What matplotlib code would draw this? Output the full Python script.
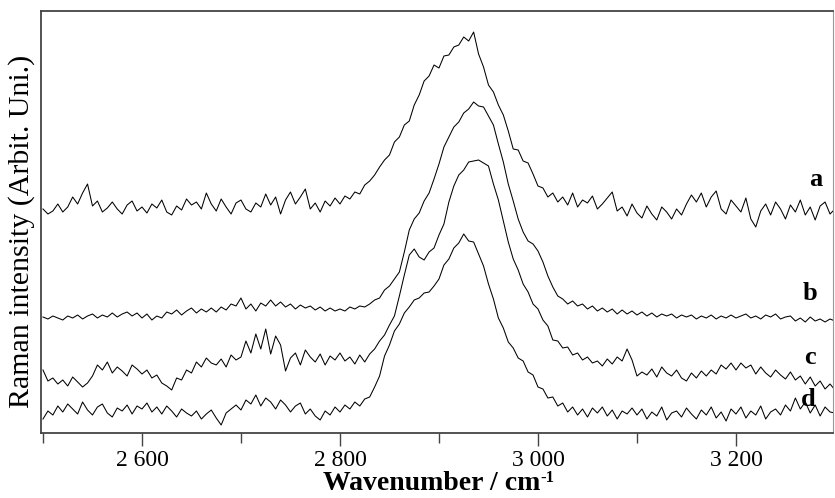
import numpy as np
import matplotlib
matplotlib.use("Agg")
import matplotlib.pyplot as plt
from matplotlib.ticker import MultipleLocator, FuncFormatter

# wavenumber grid (cm-1) shared by the four spectra
wavenumber = np.arange(2500, 3301, 5)

# intensities (arbitrary units, offset per trace)
spec_a = [224, 219, 222, 229, 221, 226, 236, 229, 240, 249, 227, 232, 221, 225, 231, 224, 219, 228, 232, 222,
          226, 220, 229, 225, 233, 221, 218, 227, 223, 234, 228, 231, 224, 240, 229, 222, 234, 226, 219, 230,
          233, 224, 221, 230, 226, 239, 228, 236, 219, 233, 241, 229, 236, 244, 224, 230, 221, 232, 227, 235,
          229, 237, 234, 241, 239, 248, 252, 258, 266, 273, 278, 291, 296, 308, 312, 328, 338, 352, 357, 368,
          365, 377, 378, 386, 388, 396, 392, 401, 379, 366, 348, 341, 328, 318, 302, 284, 283, 272, 270, 259,
          247, 245, 236, 240, 231, 236, 228, 240, 226, 233, 230, 237, 224, 229, 235, 241, 222, 226, 217, 229,
          220, 215, 227, 219, 213, 226, 221, 214, 224, 218, 229, 238, 231, 240, 226, 236, 242, 224, 219, 233,
          227, 221, 235, 214, 206, 222, 229, 218, 231, 224, 214, 228, 221, 233, 218, 226, 213, 227, 231, 219, 224]
spec_b = [116, 114, 117, 115, 113, 117, 115, 118, 114, 117, 119, 115, 118, 116, 120, 116, 119, 121, 117, 120,
          115, 119, 113, 117, 115, 121, 119, 123, 118, 122, 125, 120, 124, 121, 125, 121, 126, 123, 129, 127,
          135, 124, 129, 122, 130, 127, 133, 127, 131, 126, 129, 124, 128, 125, 127, 123, 126, 122, 125, 122,
          124, 122, 126, 124, 127, 126, 129, 133, 135, 143, 147, 154, 161, 181, 203, 214, 220, 232, 240, 254,
          269, 286, 296, 306, 311, 320, 324, 331, 327, 326, 317, 308, 289, 271, 249, 232, 214, 201, 192, 189,
          182, 171, 157, 146, 137, 134, 129, 132, 127, 129, 124, 127, 122, 125, 121, 124, 119, 123, 119, 122,
          118, 121, 117, 120, 116, 119, 117, 119, 115, 118, 116, 118, 114, 117, 115, 118, 114, 117, 115, 118,
          115, 117, 119, 115, 117, 114, 118, 116, 119, 114, 116, 117, 112, 115, 111, 116, 112, 114, 111, 114, 112]
spec_c = [63, 52, 55, 49, 53, 47, 56, 51, 46, 50, 57, 68, 63, 71, 60, 66, 62, 57, 68, 64,
          59, 63, 55, 58, 50, 47, 43, 55, 53, 63, 60, 71, 66, 75, 70, 68, 74, 66, 78, 73,
          76, 92, 80, 99, 84, 104, 79, 97, 88, 62, 75, 80, 68, 83, 76, 71, 79, 68, 77, 73,
          80, 72, 76, 69, 78, 71, 79, 84, 92, 98, 108, 117, 137, 158, 178, 184, 176, 173, 181, 185,
          198, 209, 231, 247, 258, 263, 271, 272, 273, 270, 267, 249, 233, 212, 191, 174, 163, 149, 141, 129,
          124, 113, 107, 93, 92, 85, 86, 78, 80, 73, 76, 70, 72, 67, 74, 69, 76, 72, 84, 73,
          57, 61, 58, 64, 56, 66, 60, 57, 63, 55, 52, 60, 55, 62, 57, 63, 59, 68, 64, 70,
          63, 70, 65, 68, 59, 66, 60, 56, 63, 58, 54, 61, 53, 57, 49, 56, 47, 52, 44, 49, 43]
spec_d = [14, 22, 18, 27, 21, 29, 24, 19, 31, 23, 18, 26, 29, 20, 16, 25, 22, 28, 19, 27,
          24, 30, 21, 26, 19, 27, 22, 16, 24, 20, 17, 22, 14, 19, 23, 15, 8, 20, 24, 28,
          23, 33, 29, 38, 27, 35, 31, 24, 33, 28, 21, 27, 30, 19, 24, 17, 13, 22, 18, 26,
          21, 28, 24, 31, 27, 34, 36, 46, 57, 77, 88, 102, 109, 120, 126, 133, 135, 140, 141, 147,
          154, 168, 174, 185, 190, 199, 192, 191, 179, 167, 149, 134, 115, 105, 91, 85, 75, 72, 61, 58,
          46, 44, 35, 36, 27, 30, 21, 26, 18, 24, 16, 25, 20, 26, 17, 23, 14, 22, 19, 25,
          18, 24, 14, 21, 17, 26, 13, 20, 22, 16, 25, 19, 14, 23, 18, 26, 15, 21, 12, 24,
          19, 26, 15, 22, 18, 27, 14, 21, 24, 18, 28, 22, 35, 24, 31, 20, 28, 17, 26, 21, 20]

series = [spec_a, spec_b, spec_c, spec_d]
labels = ['a', 'b', 'c', 'd']
label_pos = [(3281, 253), (3275, 140), (3275, 75), (3273, 33)]

plt.rcParams['font.family'] = ['Liberation Serif', 'DejaVu Serif']

fig = plt.figure(figsize=(8.35, 4.98), dpi=100)
ax = fig.add_axes([41 / 835, 65 / 498, 792 / 835, 422 / 498])

for s in series:
    ax.plot(wavenumber, s, color='black', linewidth=0.75)

for lab, (xx, yy) in zip(labels, label_pos):
    ax.text(xx, yy, lab, fontsize=19, fontweight='bold', ha='center', va='center')

ax.set_xlim(2498, 3298)
ax.set_ylim(0, 422)

ax.xaxis.set_major_locator(MultipleLocator(200))
ax.xaxis.set_minor_locator(MultipleLocator(100))
ax.xaxis.set_major_formatter(FuncFormatter(lambda v, p: f"{int(v):,}".replace(",", " ")))
ax.tick_params(axis='x', which='major', direction='out', length=9.5, width=1.0,
               labelsize=17, pad=2.5, color='#444444')
ax.tick_params(axis='x', which='minor', direction='out', length=7, width=1.0, color='#444444')
ax.set_yticks([])

for side in ['top', 'bottom', 'left', 'right']:
    ax.spines[side].set_color('#444444')
    ax.spines[side].set_linewidth(1.3)
ax.spines['right'].set_color('#999999')
ax.spines['right'].set_linewidth(0.8)

# x label with a small superscript "-1" hung on the end of the text
xl = fig.text(432 / 835, 1 - 483 / 498, 'Wavenumber / cm', fontsize=20, fontweight='bold',
              ha='center', va='center')
ax.annotate('-1', xy=(1.0, 1.02), xycoords=xl, fontsize=12, fontweight='bold',
            ha='left', va='top', annotation_clip=False)
fig.text(22 / 835, 1 - 231 / 498, 'Raman intensity (Arbit. Uni.)', fontsize=21.5, rotation=90,
         ha='center', va='center')

fig.savefig('out.png', dpi=100, facecolor='white')
